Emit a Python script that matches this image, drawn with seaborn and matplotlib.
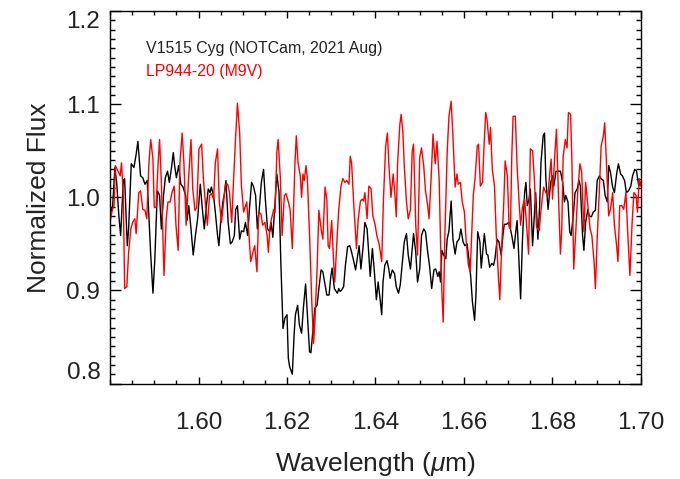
import matplotlib
matplotlib.use("Agg")
import matplotlib.pyplot as plt
from matplotlib.ticker import MultipleLocator
import seaborn as sns
import pandas as pd

# V1515 Cyg spectrum (NOTCam, 2021 Aug)
v1515_wl = [
    1.5802, 1.5806, 1.5811, 1.5815, 1.5820, 1.5824, 1.5830, 1.5833, 1.5839, 1.5842,
    1.5848, 1.5854, 1.5859, 1.5863, 1.5869, 1.5874, 1.5879, 1.5884, 1.5888, 1.5892,
    1.5897, 1.5901, 1.5907, 1.5912, 1.5916, 1.5921, 1.5925, 1.5930, 1.5934, 1.5939,
    1.5943, 1.5946, 1.5950, 1.5955, 1.5960, 1.5965, 1.5971, 1.5974, 1.5978, 1.5983,
    1.5988, 1.5993, 1.5998,
    1.6004, 1.6008, 1.6013, 1.6017, 1.6022, 1.6026, 1.6029, 1.6034, 1.6038, 1.6043,
    1.6046, 1.6050, 1.6055, 1.6058, 1.6062, 1.6067, 1.6072, 1.6076, 1.6081, 1.6084,
    1.6088, 1.6093, 1.6097, 1.6102, 1.6106, 1.6111, 1.6115, 1.6120, 1.6124, 1.6129,
    1.6133, 1.6138, 1.6142, 1.6147, 1.6151, 1.6156, 1.6161, 1.6164, 1.6168, 1.6173,
    1.6177, 1.6182, 1.6186, 1.6191, 1.6195, 1.6200, 1.6203, 1.6206,
    1.6212, 1.6216, 1.6219, 1.6224, 1.6228, 1.6233, 1.6237, 1.6242, 1.6246, 1.6251,
    1.6254, 1.6259, 1.6263, 1.6268, 1.6272, 1.6277, 1.6281, 1.6286, 1.6290, 1.6295,
    1.6299, 1.6302, 1.6307, 1.6311, 1.6314, 1.6317, 1.6320, 1.6323, 1.6328, 1.6332,
    1.6337, 1.6342, 1.6346, 1.6351, 1.6355, 1.6360, 1.6363, 1.6367, 1.6372, 1.6376,
    1.6381, 1.6384, 1.6388, 1.6393, 1.6397, 1.6402, 1.6406,
    1.6411, 1.6414, 1.6417, 1.6421, 1.6426, 1.6430, 1.6433, 1.6438, 1.6443, 1.6447,
    1.6452, 1.6456, 1.6461, 1.6465, 1.6470, 1.6474, 1.6479, 1.6483, 1.6486, 1.6491,
    1.6495, 1.6500, 1.6504, 1.6509, 1.6513, 1.6518, 1.6522, 1.6527, 1.6532, 1.6536,
    1.6541, 1.6544, 1.6547, 1.6550, 1.6554, 1.6559, 1.6562, 1.6566, 1.6571, 1.6575,
    1.6580, 1.6584, 1.6589, 1.6593, 1.6598, 1.6602, 1.6607, 1.6611,
    1.6615, 1.6619, 1.6624, 1.6627, 1.6630, 1.6631, 1.6636, 1.6639, 1.6643, 1.6646,
    1.6651, 1.6654, 1.6658, 1.6663, 1.6667, 1.6670, 1.6675, 1.6679, 1.6684, 1.6688,
    1.6691, 1.6696, 1.6701, 1.6705, 1.6708, 1.6713, 1.6717, 1.6720, 1.6723, 1.6728,
    1.6732, 1.6737, 1.6740, 1.6743, 1.6747, 1.6750, 1.6755, 1.6759, 1.6762, 1.6767,
    1.6771, 1.6774, 1.6779, 1.6782, 1.6785, 1.6790, 1.6793, 1.6796, 1.6800, 1.6803,
    1.6808, 1.6812,
    1.6818, 1.6823, 1.6827, 1.6830, 1.6835, 1.6839, 1.6842, 1.6847, 1.6851, 1.6856,
    1.6860, 1.6863, 1.6868, 1.6871, 1.6875, 1.6880, 1.6883, 1.6888, 1.6892, 1.6897,
    1.6901, 1.6906, 1.6910, 1.6915, 1.6919, 1.6924, 1.6927, 1.6931, 1.6936, 1.6940,
    1.6945, 1.6949, 1.6954, 1.6958, 1.6963, 1.6967, 1.6972, 1.6977, 1.6981, 1.6986,
    1.6990, 1.6995, 1.6998,
]
v1515_flux = [
    0.984, 0.991, 1.032, 1.016, 0.980, 0.959, 1.018, 1.020, 0.948, 0.966,
    1.036, 1.032, 1.046, 1.060, 1.023, 1.021, 1.014, 1.018, 0.977, 0.938,
    0.897, 0.931, 1.007, 1.002, 0.966, 1.002, 1.021, 1.028, 1.016, 1.032,
    1.048, 1.034, 1.021, 1.034, 1.014, 1.011, 1.002, 0.975, 0.991, 0.966,
    0.938, 0.959, 0.977,
    1.014, 0.991, 0.966, 0.987, 1.009, 1.005, 1.011, 1.002, 0.984, 0.959,
    0.948, 0.973, 0.995, 1.002, 1.018, 0.973, 0.950, 0.952, 0.959, 0.987,
    0.991, 0.955, 0.964, 0.963, 0.973, 0.959, 0.987, 1.016, 1.012, 1.002,
    0.966, 0.991, 1.016, 1.030, 0.998, 0.966, 0.963, 0.973, 0.957, 0.995,
    1.025, 1.005, 0.931, 0.859, 0.870, 0.874, 0.827, 0.818,
    0.810, 0.852, 0.874, 0.884, 0.863, 0.854, 0.881, 0.907, 0.874, 0.834,
    0.833, 0.859, 0.881, 0.884, 0.902, 0.922, 0.920, 0.906, 0.895, 0.895,
    0.915, 0.924, 0.902, 0.899, 0.897, 0.902, 0.899, 0.900, 0.904, 0.927,
    0.947, 0.948, 0.941, 0.931, 0.922, 0.938, 0.948, 0.923, 0.947, 0.973,
    0.966, 0.945, 0.915, 0.945, 0.923, 0.890, 0.909,
    0.888, 0.874, 0.909, 0.927, 0.932, 0.923, 0.913, 0.922, 0.918, 0.904,
    0.897, 0.906, 0.931, 0.952, 0.961, 0.938, 0.923, 0.945, 0.961, 0.941,
    0.909, 0.923, 0.959, 0.966, 0.963, 0.941, 0.927, 0.902, 0.922, 0.923,
    0.915, 0.920, 0.909, 0.943, 0.938, 0.934, 0.955, 0.964, 0.996, 0.955,
    0.939, 0.952, 0.955, 0.966, 0.952, 0.948, 0.950, 0.934,
    0.916, 0.888, 0.868, 0.895, 0.945, 0.963, 0.952, 0.924, 0.945, 0.961,
    0.939, 0.938, 0.925, 0.929, 0.927, 0.934, 0.955, 0.952, 0.938, 0.959,
    0.971, 0.971, 0.973, 0.966, 0.959, 0.945, 0.963, 0.975, 0.945, 0.891,
    0.952, 1.005, 1.016, 0.991, 0.998, 1.009, 0.948, 0.980, 1.005, 0.955,
    0.991, 1.037, 1.066, 1.069, 1.020, 0.987, 1.002, 1.016, 1.023, 1.012,
    1.028, 1.028,
    1.028, 1.016, 0.995, 1.002, 0.995, 0.963, 0.959, 0.980, 1.005, 1.009,
    1.018, 1.012, 0.959, 0.943, 0.973, 0.987, 0.980, 0.979, 0.984, 0.986,
    1.018, 1.023, 1.020, 1.018, 1.002, 0.995, 1.034, 1.027, 1.011, 1.005,
    1.025, 1.036, 1.025, 1.023, 1.018, 1.005, 1.007, 1.012, 1.023, 1.030,
    1.028, 1.012, 1.016,
]

# LP944-20 template spectrum (M9V)
lp944_wl = [
    1.5800, 1.5805, 1.5809, 1.5812, 1.5818, 1.5823, 1.5826, 1.5830, 1.5833, 1.5838,
    1.5842, 1.5847, 1.5851, 1.5856, 1.5859, 1.5865, 1.5869, 1.5874, 1.5879, 1.5883,
    1.5888, 1.5892, 1.5897, 1.5900, 1.5904, 1.5909, 1.5912, 1.5916, 1.5922, 1.5927,
    1.5931, 1.5936, 1.5940, 1.5945, 1.5949, 1.5954, 1.5958, 1.5963, 1.5967, 1.5972,
    1.5977, 1.5983, 1.5987, 1.5992, 1.5996, 1.6001,
    1.6007, 1.6011, 1.6016, 1.6020, 1.6025, 1.6029, 1.6034, 1.6038, 1.6043, 1.6047,
    1.6052, 1.6056, 1.6061, 1.6066, 1.6070, 1.6075, 1.6079, 1.6084, 1.6088, 1.6093,
    1.6097, 1.6102, 1.6105, 1.6109, 1.6114, 1.6118, 1.6123, 1.6127, 1.6132, 1.6136,
    1.6141, 1.6145, 1.6150, 1.6155, 1.6158, 1.6161, 1.6165, 1.6170, 1.6173, 1.6177,
    1.6180, 1.6185, 1.6189, 1.6194, 1.6198, 1.6203,
    1.6207, 1.6212, 1.6215, 1.6218, 1.6221, 1.6225, 1.6230, 1.6233, 1.6236, 1.6239,
    1.6243, 1.6246, 1.6251, 1.6256, 1.6260, 1.6263, 1.6268, 1.6272, 1.6277, 1.6281,
    1.6286, 1.6290, 1.6293, 1.6296, 1.6301, 1.6305, 1.6308, 1.6313, 1.6317, 1.6322,
    1.6326, 1.6331, 1.6335, 1.6340, 1.6343, 1.6346, 1.6351, 1.6357, 1.6361, 1.6366,
    1.6370, 1.6373, 1.6376, 1.6381, 1.6385, 1.6390, 1.6394, 1.6399, 1.6403, 1.6408,
    1.6411, 1.6414, 1.6418, 1.6423, 1.6427, 1.6430, 1.6435, 1.6440, 1.6444, 1.6447,
    1.6450, 1.6455, 1.6458, 1.6462, 1.6465, 1.6470, 1.6474, 1.6479, 1.6483, 1.6486,
    1.6491, 1.6495, 1.6500, 1.6504, 1.6509, 1.6513, 1.6518, 1.6521, 1.6526, 1.6530,
    1.6535, 1.6539, 1.6544, 1.6547, 1.6550, 1.6553, 1.6557, 1.6562, 1.6566, 1.6571,
    1.6575, 1.6580, 1.6584, 1.6587, 1.6592, 1.6596, 1.6601, 1.6605, 1.6610, 1.6614,
    1.6618, 1.6621, 1.6625, 1.6630, 1.6633, 1.6637, 1.6642, 1.6645, 1.6649, 1.6652,
    1.6657, 1.6660, 1.6664, 1.6669, 1.6673, 1.6678, 1.6681, 1.6685, 1.6690, 1.6693,
    1.6698, 1.6702, 1.6705, 1.6708, 1.6711, 1.6716, 1.6720, 1.6725, 1.6728, 1.6732,
    1.6737, 1.6741, 1.6746, 1.6750, 1.6755, 1.6759, 1.6764, 1.6770, 1.6774, 1.6780,
    1.6785, 1.6790, 1.6794, 1.6797, 1.6800, 1.6805, 1.6809, 1.6814,
    1.6818, 1.6821, 1.6824, 1.6829, 1.6833, 1.6836, 1.6841, 1.6844, 1.6848, 1.6853,
    1.6857, 1.6862, 1.6866, 1.6871, 1.6875, 1.6880, 1.6885, 1.6889, 1.6894, 1.6897,
    1.6901, 1.6906, 1.6910, 1.6915, 1.6918, 1.6922, 1.6927, 1.6931, 1.6936, 1.6940,
    1.6945, 1.6948, 1.6952, 1.6957, 1.6961, 1.6966, 1.6970, 1.6975, 1.6980, 1.6984,
    1.6989, 1.6992, 1.6996, 1.7000,
]
lp944_flux = [
    0.973, 0.986, 0.991, 1.034, 1.028, 1.023, 1.037, 1.002, 0.902, 0.904,
    0.941, 0.966, 0.973, 0.977, 0.961, 1.005, 1.007, 0.987, 0.986, 0.977,
    1.037, 1.062, 1.041, 0.989, 0.989, 1.039, 1.062, 1.016, 0.916, 0.977,
    0.995, 0.995, 1.005, 1.012, 0.970, 0.943, 1.037, 1.069, 1.037, 0.970,
    1.016, 1.062, 1.009, 0.986, 0.989, 1.052,
    1.057, 1.020, 0.991, 0.970, 1.002, 1.004, 0.998, 1.037, 1.052, 0.995,
    0.973, 0.991, 1.014, 1.014, 1.005, 0.973, 1.016, 1.066, 1.101, 1.069,
    1.012, 0.984, 0.989, 0.995, 0.959, 0.931, 0.941, 0.948, 0.920, 0.984,
    0.982, 0.970, 0.973, 0.959, 0.941, 0.966, 0.977, 0.987, 0.984, 1.048,
    1.062, 1.020, 0.959, 1.002, 1.004, 0.995,
    0.987, 0.945, 0.991, 1.037, 1.066, 1.037, 1.023, 1.000, 1.025, 1.018,
    1.034, 1.020, 0.959, 0.888, 0.843, 0.866, 0.923, 0.986, 0.966, 0.955,
    1.011, 0.998, 0.948, 0.945, 0.975, 0.934, 0.909, 0.955, 0.987, 1.012,
    1.020, 1.016, 1.018, 1.014, 1.044, 1.037, 0.991, 0.945, 0.977, 0.996,
    0.998, 0.996, 1.005, 0.977, 1.012, 1.009, 0.980, 0.971, 0.959, 0.950,
    0.941, 0.931, 0.998, 1.055, 1.069, 1.037, 1.000, 1.025, 1.002, 0.979,
    1.037, 1.078, 1.089, 1.069, 1.034, 0.995, 0.977, 0.987, 1.050, 1.057,
    0.970, 0.938, 1.043, 1.053, 1.034, 1.007, 0.991, 0.977, 1.023, 1.068,
    1.036, 1.060, 1.018, 0.952, 0.899, 0.866, 0.963, 1.048, 1.087, 1.103,
    1.066, 1.011, 1.025, 1.014, 1.016, 0.995, 0.984, 0.952, 0.927, 0.920,
    0.966, 1.002, 1.020, 1.055, 1.057, 1.012, 1.016, 1.052, 1.091, 1.084,
    1.057, 1.075, 1.030, 1.012, 0.959, 0.913, 0.890, 0.945, 0.995, 1.039,
    1.023, 0.968, 0.966, 1.044, 1.087, 1.087, 1.034, 0.991, 0.970, 0.989,
    0.998, 0.973, 0.939, 1.052, 1.050, 1.020, 0.968, 0.964, 0.986, 1.011,
    1.005, 1.002, 1.027, 1.041, 0.998, 1.044, 1.073, 0.995,
    0.939, 0.966, 1.043, 1.062, 1.053, 1.091, 1.089, 1.037, 0.923, 0.966,
    1.005, 1.036, 1.027, 0.963, 1.016, 0.991, 0.966, 0.959, 0.931, 0.902,
    0.955, 1.009, 1.055, 1.066, 1.080, 1.037, 0.980, 0.987, 1.005, 0.970,
    0.948, 0.931, 0.991, 0.991, 0.987, 1.005, 0.963, 0.916, 0.973, 1.005,
    1.002, 0.984, 1.020, 1.012,
]

series_labels = ["V1515 Cyg (NOTCam, 2021 Aug)", "LP944-20 (M9V)"]
series_colors = ["black", "#ff0000"]
x_ticks = [1.60, 1.62, 1.64, 1.66, 1.68, 1.70]
y_ticks = [0.8, 0.9, 1.0, 1.1, 1.2]

sns.set_theme(style="ticks")
plt.rcParams["font.family"] = ["Liberation Sans", "DejaVu Sans"]
plt.rcParams["mathtext.fontset"] = "custom"
plt.rcParams["mathtext.rm"] = "Liberation Sans"
plt.rcParams["mathtext.it"] = "Liberation Sans:italic"

text_color = "#222222"

fig = plt.figure(figsize=(6.8, 4.79), dpi=100)
ax = fig.add_axes([0.1618, 0.1983, 0.7808, 0.7787])

spectra = [
    pd.DataFrame({"wavelength": v1515_wl, "flux": v1515_flux}),
    pd.DataFrame({"wavelength": lp944_wl, "flux": lp944_flux}),
]
for df, color in zip(spectra, series_colors):
    sns.lineplot(data=df, x="wavelength", y="flux", color=color, linewidth=1.0,
                 estimator=None, sort=False, ax=ax)

ax.set_xlim(1.58, 1.70)
ax.set_ylim(0.7995, 1.1985)

ax.set_xticks(x_ticks)
ax.set_xticklabels([f"{t:.2f}" for t in x_ticks])
ax.set_yticks(y_ticks)
ax.set_yticklabels([f"{t:.1f}" for t in y_ticks])
ax.xaxis.set_minor_locator(MultipleLocator(0.005))
ax.yaxis.set_minor_locator(MultipleLocator(0.01))

ax.tick_params(which="both", direction="in", top=True, right=True,
               color="black", labelcolor=text_color, labelsize=17.5)
ax.tick_params(axis="x", which="major", length=5.3, width=1.0, pad=20)
ax.tick_params(axis="x", which="minor", length=2.7, width=1.0)
ax.tick_params(axis="y", which="major", length=7.6, width=1.0, pad=7)
ax.tick_params(axis="y", which="minor", length=3.8, width=1.0)

# keep the outermost y labels inside the frame
ylabels = ax.get_yticklabels()
ylabels[0].set_verticalalignment("bottom")
ylabels[-1].set_verticalalignment("top")

for spine in ax.spines.values():
    spine.set_linewidth(1.0)
    spine.set_color("black")

ax.set_xlabel(r"Wavelength ($\mu$m)", fontsize=19, color=text_color, labelpad=12)
ax.set_ylabel("Normalized Flux", fontsize=19, color=text_color, labelpad=11)

ax.text(0.068, 0.900, series_labels[0], transform=ax.transAxes, fontsize=11.4,
        color=text_color, va="center", ha="left")
ax.text(0.068, 0.838, series_labels[1], transform=ax.transAxes, fontsize=11.4,
        color=series_colors[1], va="center", ha="left")

fig.savefig("out.png", dpi=100)
